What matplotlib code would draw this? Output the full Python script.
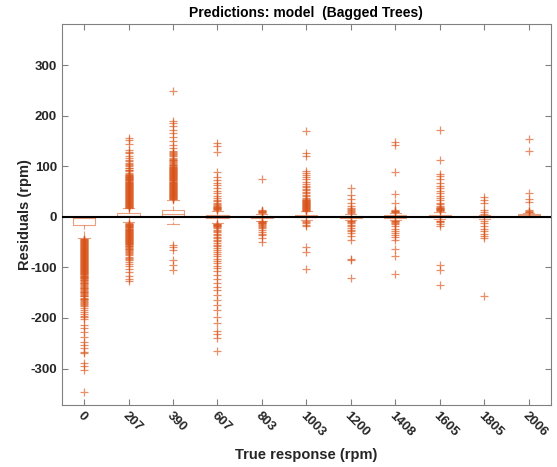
import matplotlib
matplotlib.use("Agg")
import matplotlib.pyplot as plt

plt.rcParams['font.family'] = ['Liberation Sans', 'DejaVu Sans']
plt.rcParams['axes.unicode_minus'] = False

labels = ['0', '207', '390', '607', '803', '1003', '1200', '1408', '1605', '1805', '2006']

# box stats: (q1, median, q3, lower whisker, upper whisker)
q1 = [-17, 1, 1, -3, -2, -1, -2, -2, -1, -1, 0]
med = [-2, 2, 5, 0, 0, 0, 0, 0, 0, 0, 3]
q3 = [0, 7, 14, 4, 2, 4, 2, 3, 4, 2, 6]
whislo = [-42, -10, -14, -12, -8, -6, -6, -6, -5, -4, 0]
whishi = [0, 17, 34, 12, 6, 11, 5, 7, 10, 4, 8]

# outliers per group
out_0 = [-43, -44, -45, -46, -47, -48, -49, -50, -51, -52, -53, -54, -55, -56, -57, -58,
         -59, -60, -61, -62, -63, -64, -65, -66, -67, -68, -69, -70, -71, -72, -73, -74,
         -75, -76, -77, -78, -79, -80, -81, -82, -83, -84, -85, -86, -87, -88, -89, -90,
         -91, -92, -93, -94, -95, -96, -97, -98, -99, -100, -101, -102, -103, -104, -105,
         -106, -107, -108, -109, -110, -111, -112, -113, -114, -115, -116, -117, -118,
         -119, -120, -121,
         -123, -124, -125, -127, -128, -130, -131, -133, -135, -136, -138, -140, -141,
         -143, -145, -146, -148, -149, -151, -153, -154, -156, -157, -160, -162, -163,
         -165, -167, -168, -171, -172, -174, -177,
         -181, -185, -189, -193, -196, -198, -203,
         -214, -220, -227, -237, -247, -253, -260, -267, -270, -290, -296, -303, -347]
out_207 = [18, 19, 20, 21, 22, 23, 24, 25, 26, 27, 28, 29, 30, 31, 32, 33, 34, 35, 36,
           37, 38, 39, 40, 41, 42, 43, 44, 45, 46, 47, 48, 49, 50, 51, 52, 53, 54, 55, 56,
           57, 58, 59, 60, 61, 62, 63, 64, 65, 66, 67, 68, 69, 70, 71, 72, 73, 74, 75, 76,
           77, 78, 79, 80, 81, 82, 83,
           85, 87, 90, 92, 93, 96, 97, 100, 102, 104, 106, 110, 113, 116, 120, 126, 129,
           133, 145, 152, 157,
           -13, -14, -15, -16, -17, -18, -19, -20, -21, -22, -23, -24, -25, -26, -27, -28,
           -29, -30, -31, -32, -33, -34, -35, -36, -37, -38, -39, -40, -41, -42, -43, -44,
           -45, -46, -47, -48, -49, -50, -51, -52, -53, -54, -55,
           -57, -58, -60, -61, -63, -64, -66, -67, -70, -72, -73, -76, -79, -81, -83, -86,
           -90, -94, -98, -103, -110, -117, -123, -127]
out_390 = [35, 36, 37, 38, 39, 40, 41, 42, 43, 44, 45, 46, 47, 48, 49, 50, 51, 52, 53,
           54, 55, 56, 57, 58, 59, 60, 61, 62, 63, 64, 65, 66, 67, 68, 69, 70, 71, 72, 73,
           74, 75, 76, 77, 78, 79, 80, 81, 82, 83, 84, 85, 86, 87, 88, 89, 90, 91, 92, 93,
           94, 95, 96, 97, 98, 99, 100,
           102, 103, 105, 106, 108, 110, 112, 113, 115, 117, 120, 122, 124, 126, 128, 131,
           136, 142, 150, 158, 165, 172, 180, 185, 190, 250,
           -55, -60, -65, -85, -95, -105]
out_607 = [14, 15, 16, 17, 18, 19, 20, 22, 24, 26, 28, 31, 34, 38, 42, 47, 52, 57, 63,
           68, 73, 78, 88, 129, 140, 146,
           -14, -15, -16, -17, -18, -19, -20, -22, -25, -28, -30, -33, -36, -39, -42, -45,
           -48, -52, -55, -58, -62, -66, -70, -74, -78, -83, -88, -92, -97, -102, -108,
           -115, -122, -130, -138, -145, -155, -165, -175, -185, -198, -210, -225, -232,
           -240, -265]
out_803 = [8, 9, 10, 11, 12, 14, 75, -9, -10, -11, -12, -13, -14, -16, -18, -20, -22,
           -25, -29, -33, -36, -42, -49]
out_1003 = [12, 13, 14, 15, 16, 17, 18, 19, 20, 21, 22, 23, 24, 25, 26, 27, 28, 29, 30,
            31, 32, 33, 34, 36, 38, 41, 44, 47, 50, 53, 56, 59, 62, 66, 70, 74, 78, 82,
            86, 90, 121, 126, 169,
            -8, -10, -13, -16, -19, -59, -69, -104]
out_1200 = [7, 9, 11, 13, 15, 18, 22, 28, 36, 44, 57,
            -8, -9, -10, -13, -16, -19, -22, -25, -28, -32, -38, -46, -84, -86, -120]
out_1408 = [9, 10, 11, 12, 14, 28, 46, 88, 143, 149,
            -8, -9, -10, -12, -15, -19, -23, -27, -31, -35, -40, -46, -63, -77, -113]
out_1605 = [12, 13, 14, 15, 16, 17, 18, 20, 22, 25, 28, 34, 38, 42, 47, 52, 57, 62, 68,
            74, 80, 85, 113, 171, -8, -9, -11, -15, -19, -96, -105, -135]
out_1805 = [6, 10, 14, 28, 34, 40, -8, -13, -18, -23, -28, -33, -38, -42, -156]
out_2006 = [9, 10, 11, 14, 30, 36, 47, 131, 154]

outliers = [out_0, out_207, out_390, out_607, out_803, out_1003, out_1200, out_1408,
            out_1605, out_1805, out_2006]

stats = []
for i in range(len(labels)):
    stats.append(dict(med=med[i], q1=q1[i], q3=q3[i], whislo=whislo[i],
                      whishi=whishi[i], fliers=outliers[i], label=labels[i]))

c = '#D95319'
fig = plt.figure(figsize=(5.57, 4.67), dpi=100)
ax = fig.add_axes([0.111, 0.133, 0.878, 0.816])

ax.bxp(stats, widths=0.5,
       boxprops=dict(color=c, lw=0.8, alpha=0.55),
       medianprops=dict(color=c, lw=0.8, alpha=0.55),
       whiskerprops=dict(color=c, lw=0.8, ls='--', alpha=0.55),
       capprops=dict(color=c, lw=0.8, alpha=0.55),
       flierprops=dict(marker='+', markeredgecolor=c, markersize=6,
                       markeredgewidth=0.9, alpha=0.65))
ax.axhline(0, color='k', lw=1.5, zorder=5)

ax.set_xlim(0.5, 11.5)
ax.set_ylim(-372, 382)
ax.set_yticks([-300, -200, -100, 0, 100, 200, 300])
ax.set_xticklabels(labels, rotation=-45, ha='left', va='top', rotation_mode='anchor')

ax.tick_params(direction='in', top=True, right=True, length=4, color='#808080',
               labelcolor='#262626', labelsize=9.5)
for lab in ax.get_xticklabels() + ax.get_yticklabels():
    lab.set_fontweight('bold')
for s in ax.spines.values():
    s.set_color('#808080')
    s.set_linewidth(0.8)

ax.set_title('Predictions: model  (Bagged Trees)', fontsize=10, fontweight='bold', pad=5)
ax.set_xlabel('True response (rpm)', fontsize=10.5, fontweight='bold', color='#262626',
              labelpad=6)
ax.set_ylabel('Residuals (rpm)', fontsize=10.5, fontweight='bold', color='#262626')
ax.yaxis.set_label_coords(-0.062, 0.5)

fig.savefig('out.png', dpi=100)
